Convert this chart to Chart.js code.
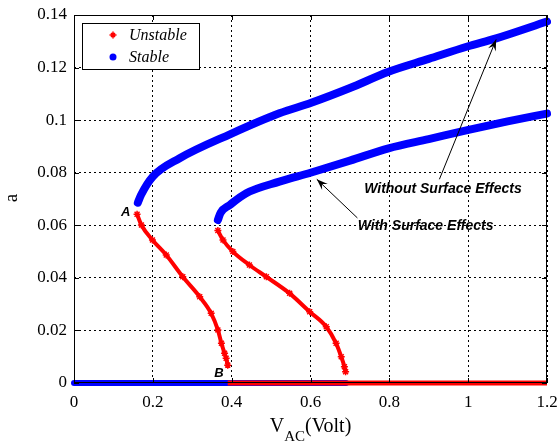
<!DOCTYPE html>
<html>
<head>
<meta charset="utf-8">
<script src="https://cdn.jsdelivr.net/npm/chart.js@4"></script>
<style>
  html, body { margin: 0; padding: 0; background: #fff; }
  #wrap { width: 558px; height: 445px; position: relative; }
</style>
</head>
<body>
<div id="wrap"><canvas id="bifChart" width="558" height="445"></canvas></div>
<script>
// axis ticks
const xTicks = [0, 0.2, 0.4, 0.6, 0.8, 1, 1.2];
const yTicks = [0, 0.02, 0.04, 0.06, 0.08, 0.1, 0.12, 0.14];

// stable branch, without surface effects
const stableNoSurfX = [0.162, 0.17, 0.2, 0.268, 0.397, 0.521, 0.602, 0.7, 0.798, 0.9, 0.998, 1.071, 1.2];
const stableNoSurfY = [0.0686, 0.0715, 0.0785, 0.0855, 0.0947, 0.1026, 0.1066, 0.1122, 0.1184, 0.1233, 0.128, 0.1311, 0.1375];

// stable branch, with surface effects
const stableSurfX = [0.365, 0.372, 0.395, 0.437, 0.521, 0.6, 0.7, 0.798, 0.9, 0.998, 1.1, 1.2];
const stableSurfY = [0.062, 0.0648, 0.0677, 0.0722, 0.0766, 0.08, 0.0846, 0.0893, 0.0928, 0.0962, 0.0995, 0.1025];

// unstable branches
const unstableNoSurfX = [0.16, 0.171, 0.199, 0.234, 0.276, 0.319, 0.348, 0.365, 0.374, 0.382, 0.386, 0.39];
const unstableNoSurfY = [0.0642, 0.0601, 0.0544, 0.0487, 0.0404, 0.0328, 0.0265, 0.0202, 0.0151, 0.0113, 0.0094, 0.0068];
const unstableSurfX = [0.365, 0.378, 0.403, 0.445, 0.488, 0.547, 0.598, 0.64, 0.665, 0.678, 0.686, 0.689];
const unstableSurfY = [0.058, 0.0544, 0.05, 0.0449, 0.0404, 0.0341, 0.0271, 0.0214, 0.0151, 0.01, 0.0062, 0.0043];

// trivial (a = 0) branches
const zeroStableX = [0, 0.69];
const zeroUnstableX = [0.39, 1.2];

const legendLabels = ['Unstable', 'Stable'];

const BLUE = '#0000ff';
const RED = '#ff0000';

function pts(xs, ys) {
  return xs.map((x, i) => ({ x: x, y: ys === 0 ? 0 : ys[i] }));
}

function stableSet(data, order) {
  return {
    label: 'Stable', data: data, showLine: true, borderColor: BLUE, backgroundColor: BLUE,
    borderWidth: 8, borderCapStyle: 'round', borderJoinStyle: 'round', pointRadius: 0,
    cubicInterpolationMode: 'monotone', clip: false, order: order
  };
}
function unstableSet(data, order) {
  return {
    label: 'Unstable', data: data, showLine: true, borderColor: RED, backgroundColor: RED,
    borderWidth: 4, pointStyle: 'star', pointRadius: 3.5, pointBorderWidth: 1.5,
    cubicInterpolationMode: 'monotone', clip: false, order: order
  };
}

const serif = 'Liberation Serif';
const sansBI = 'bold italic 14px "Liberation Sans"';

// box, inside ticks, annotations, legend, axis titles
const decorPlugin = {
  id: 'decor',
  afterDatasetsDraw(chart) {
    const ctx = chart.ctx, a = chart.chartArea;
    const xs = chart.scales.x, ys = chart.scales.y;
    ctx.save();
    ctx.strokeStyle = '#000';
    ctx.lineWidth = 1;
    ctx.strokeRect(a.left + 0.5, a.top + 0.5, a.right - a.left - 1, a.bottom - a.top - 1);
    ctx.beginPath();
    xTicks.forEach(v => {
      const px = Math.round(xs.getPixelForValue(v)) + 0.5;
      ctx.moveTo(px, a.bottom); ctx.lineTo(px, a.bottom - 5);
      ctx.moveTo(px, a.top); ctx.lineTo(px, a.top + 5);
    });
    yTicks.forEach(v => {
      const py = Math.round(ys.getPixelForValue(v)) + 0.5;
      ctx.moveTo(a.left, py); ctx.lineTo(a.left + 5, py);
      ctx.moveTo(a.right, py); ctx.lineTo(a.right - 5, py);
    });
    ctx.stroke();

    // arrows
    function arrow(x0, y0, x1, y1) {
      const p0x = xs.getPixelForValue(x0), p0y = ys.getPixelForValue(y0);
      const p1x = xs.getPixelForValue(x1), p1y = ys.getPixelForValue(y1);
      const ang = Math.atan2(p1y - p0y, p1x - p0x);
      ctx.beginPath();
      ctx.moveTo(p0x, p0y); ctx.lineTo(p1x, p1y);
      ctx.stroke();
      ctx.beginPath();
      ctx.moveTo(p1x, p1y);
      ctx.lineTo(p1x - 12 * Math.cos(ang - 0.35), p1y - 12 * Math.sin(ang - 0.35));
      ctx.lineTo(p1x - 7 * Math.cos(ang), p1y - 7 * Math.sin(ang));
      ctx.lineTo(p1x - 12 * Math.cos(ang + 0.35), p1y - 12 * Math.sin(ang + 0.35));
      ctx.closePath();
      ctx.fillStyle = '#000';
      ctx.fill();
    }
    arrow(0.927, 0.0775, 1.071, 0.1307);
    arrow(0.719, 0.0628, 0.616, 0.0775);

    ctx.fillStyle = '#000';
    ctx.font = sansBI;
    ctx.textAlign = 'center';
    ctx.textBaseline = 'middle';
    ctx.fillText('Without Surface Effects', xs.getPixelForValue(0.936), ys.getPixelForValue(0.0738));
    ctx.fillText('With Surface Effects', xs.getPixelForValue(0.892), ys.getPixelForValue(0.0597));
    ctx.font = 'bold italic 13px "Liberation Sans"';
    ctx.fillText('A', xs.getPixelForValue(0.131), ys.getPixelForValue(0.065));
    ctx.fillText('B', xs.getPixelForValue(0.368), ys.getPixelForValue(0.0037));

    // legend box
    const lx = a.left + 8, ly = a.top + 8, lw = 117, lh = 46;
    ctx.fillStyle = '#fff';
    ctx.fillRect(lx, ly, lw, lh);
    ctx.strokeRect(lx + 0.5, ly + 0.5, lw, lh);
    // unstable marker
    ctx.strokeStyle = RED;
    ctx.lineWidth = 1.5;
    const mx = lx + 31, my1 = ly + 12, my2 = ly + 34;
    ctx.beginPath();
    ctx.moveTo(mx - 3.5, my1); ctx.lineTo(mx + 3.5, my1);
    ctx.moveTo(mx, my1 - 3.5); ctx.lineTo(mx, my1 + 3.5);
    ctx.moveTo(mx - 2, my1 - 2); ctx.lineTo(mx + 2, my1 + 2);
    ctx.moveTo(mx - 2, my1 + 2); ctx.lineTo(mx + 2, my1 - 2);
    ctx.stroke();
    ctx.fillStyle = BLUE;
    ctx.beginPath();
    ctx.arc(mx, my2, 3.5, 0, Math.PI * 2);
    ctx.fill();
    ctx.fillStyle = '#000';
    ctx.font = 'italic 16px "' + serif + '"';
    ctx.textAlign = 'left';
    ctx.fillText(legendLabels[0], lx + 47, my1 + 1);
    ctx.fillText(legendLabels[1], lx + 47, my2 + 1);

    // y title
    ctx.save();
    ctx.translate(12, 198);
    ctx.rotate(-Math.PI / 2);
    ctx.textAlign = 'center';
    ctx.font = '19px "' + serif + '"';
    ctx.fillText('a', 0, 0);
    ctx.restore();

    // x title with subscript
    ctx.textBaseline = 'alphabetic';
    const f1 = '20px "' + serif + '"', f2 = '15px "' + serif + '"';
    ctx.font = f1;
    const wV = ctx.measureText('V').width, wRest = ctx.measureText('(Volt)').width;
    ctx.font = f2;
    const wSub = ctx.measureText('AC').width;
    let tx = (a.left + a.right) / 2 - (wV + wSub + wRest) / 2;
    const by = 432;
    ctx.font = f1; ctx.fillText('V', tx, by); tx += wV;
    ctx.font = f2; ctx.fillText('AC', tx, by + 9); tx += wSub;
    ctx.font = f1; ctx.fillText('(Volt)', tx, by);
    ctx.restore();
  }
};

const datasets = [
  stableSet(pts(stableNoSurfX, stableNoSurfY), 1),
  stableSet(pts(stableSurfX, stableSurfY), 2),
  unstableSet(pts(unstableNoSurfX, unstableNoSurfY), 3),
  unstableSet(pts(unstableSurfX, unstableSurfY), 4),
  Object.assign(unstableSet(pts(zeroUnstableX, 0), 5), { borderWidth: 5, pointRadius: 0 }),
  Object.assign(stableSet(pts(zeroStableX, 0), 6), { borderWidth: 6 })
];

new Chart(document.getElementById('bifChart'), {
  type: 'scatter',
  data: { datasets: datasets },
  options: {
    responsive: false,
    animation: false,
    layout: { padding: { top: 15, right: 11, left: 0, bottom: 0 } },
    plugins: { legend: { display: false }, tooltip: { enabled: false } },
    scales: {
      x: {
        type: 'linear', min: 0, max: 1.2,
        afterBuildTicks: s => { s.ticks = xTicks.map(v => ({ value: v })); },
        afterFit: s => { s.height = 62; s.paddingLeft = 0; s.paddingRight = 0; },
        ticks: {
          color: '#000', padding: 9, maxRotation: 0,
          font: { family: serif, size: 17 },
          callback: v => String(+v.toFixed(2))
        },
        grid: { color: '#000', drawTicks: false, lineWidth: 1 },
        border: { display: false, dash: [2, 3] }
      },
      y: {
        type: 'linear', min: 0, max: 0.14,
        afterBuildTicks: s => { s.ticks = yTicks.map(v => ({ value: v })); },
        afterFit: s => { s.width = 74; s.paddingTop = 0; s.paddingBottom = 0; },
        ticks: {
          color: '#000', padding: 7,
          font: { family: serif, size: 17 },
          callback: v => String(+v.toFixed(2))
        },
        grid: { color: '#000', drawTicks: false, lineWidth: 1 },
        border: { display: false, dash: [2, 3] }
      }
    }
  },
  plugins: [decorPlugin]
});
</script>
</body>
</html>
